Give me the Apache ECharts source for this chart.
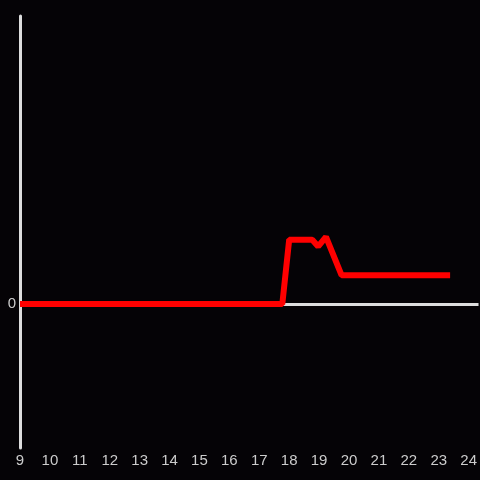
<!DOCTYPE html>
<html>
<head>
<meta charset="utf-8">
<script src="https://cdn.jsdelivr.net/npm/echarts@6/dist/echarts.min.js"></script>
<style>
  html, body { margin: 0; padding: 0; background: #050306; }
  #main { width: 480px; height: 480px; }
</style>
</head>
<body>
<div id="main"></div>
<script>
// hours (x) and values (y)
var hours = [9, 17.77, 18.0, 18.77, 18.97, 19.23, 19.75, 23.38];
var values = [0, 0, 67, 67, 60, 70, 30, 30];
var xTicks = [9, 24];

var chart = echarts.init(document.getElementById('main'));

var points = hours.map(function (h, i) { return [h, values[i]]; });

var option = {
  backgroundColor: '#050306',
  animation: false,
  grid: { left: 20, right: 0, top: 16, bottom: 32 },
  xAxis: {
    type: 'value',
    min: xTicks[0],
    max: 24.33,
    interval: 1,
    axisLine: { show: false, onZero: false },
    axisTick: { show: false },
    splitLine: { show: false },
    axisLabel: {
      color: '#cccccc',
      fontSize: 15,
      margin: 5,
      fontFamily: 'Liberation Sans, Arial, sans-serif',
      showMaxLabel: false,
      formatter: function (v) { return v <= xTicks[1] ? String(v) : ''; }
    }
  },
  yAxis: {
    type: 'value',
    min: -150,
    max: 300,
    interval: 150,
    axisLine: { show: true, lineStyle: { color: '#dddddd', width: 3 } },
    axisTick: { show: false },
    splitLine: { show: false },
    axisLabel: {
      color: '#cccccc',
      fontSize: 15,
      margin: 4,
      fontFamily: 'Liberation Sans, Arial, sans-serif',
      formatter: function (v) { return v === 0 ? '0' : ''; }
    }
  },
  series: [
    {
      type: 'line',
      data: [],
      z: 1,
      markLine: {
        silent: true,
        symbol: 'none',
        label: { show: false },
        lineStyle: { color: '#dddddd', width: 3, type: 'solid' },
        data: [{ yAxis: 0 }]
      }
    },
    {
      type: 'line',
      data: points,
      z: 5,
      symbol: 'none',
      lineStyle: { color: '#ff0000', width: 6 }
    }
  ]
};

chart.setOption(option);
</script>
</body>
</html>
